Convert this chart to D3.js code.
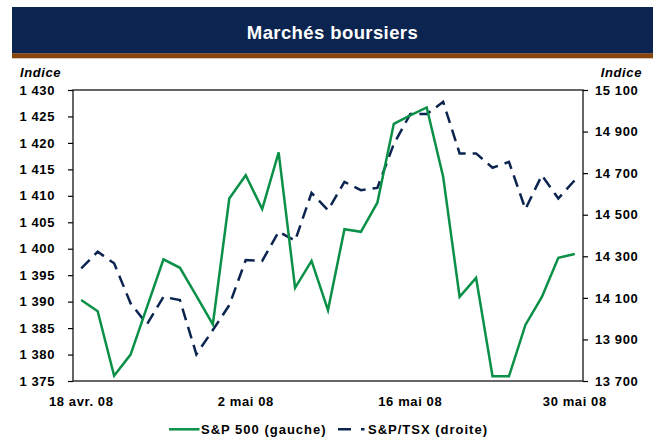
<!DOCTYPE html>
<html>
<head>
<meta charset="utf-8">
<script src="https://cdn.jsdelivr.net/npm/d3@7"></script>
<style>
  html, body { margin: 0; padding: 0; background: #fff; }
  svg { display: block; font-family: "Liberation Sans", Arial, sans-serif; }
</style>
</head>
<body>
<svg id="chart" width="653" height="441"></svg>
<script>
// ---- Data ----
const dates = [
  "2008-04-18","2008-04-21","2008-04-22","2008-04-23","2008-04-24","2008-04-25",
  "2008-04-28","2008-04-29","2008-04-30","2008-05-01","2008-05-02",
  "2008-05-05","2008-05-06","2008-05-07","2008-05-08","2008-05-09",
  "2008-05-12","2008-05-13","2008-05-14","2008-05-15","2008-05-16",
  "2008-05-19","2008-05-20","2008-05-21","2008-05-22","2008-05-23",
  "2008-05-26","2008-05-27","2008-05-28","2008-05-29","2008-05-30"
];
const sp500 = [1390.3, 1388.2, 1376.0, 1380.0, 1389.0, 1398.0, 1396.4, 1391.1, 1385.7, 1409.5,
               1413.9, 1407.5, 1418.2, 1392.6, 1397.7, 1388.4, 1403.7, 1403.2, 1408.7, 1423.6,
               1425.2, 1426.7, 1413.6, 1390.9, 1394.5, 1375.9, 1375.9, 1385.6, 1390.9, 1398.3, 1399.0];
const tsx = [14242, 14322, 14266, 14074, 13973, 14105, 14089, 13828, 13945, 14065,
             14282, 14278, 14418, 14375, 14605, 14522, 14658, 14618, 14629, 14840,
             14984, 14984, 15043, 14795, 14795, 14726, 14754, 14527, 14690, 14578, 14666];
const xTickDates = ["2008-04-18", "2008-05-02", "2008-05-16", "2008-05-30"];
const xTickLabels = ["18 avr. 08", "2 mai 08", "16 mai 08", "30 mai 08"];
const leftTicks = [1375, 1380, 1385, 1390, 1395, 1400, 1405, 1410, 1415, 1420, 1425, 1430];
const rightTicks = [13700, 13900, 14100, 14300, 14500, 14700, 14900, 15100];
const title = "Marchés boursiers";
const axisTitle = "Indice";
const seriesNames = ["S&P 500 (gauche)", "S&P/TSX (droite)"];

// ---- Layout ----
const W = 653, H = 441;
const m = { left: 73, right: 583, top: 90, bottom: 381 };
const GREEN = "#0a9047", NAVY = "#0b2450";
const svg = d3.select("#chart");
svg.append("rect").attr("width", W).attr("height", H).attr("fill", "#fff");

// Title band
svg.append("rect").attr("x", 12).attr("y", 7).attr("width", W - 12).attr("height", 46.5).attr("fill", "#0b2550");
svg.append("rect").attr("x", 12).attr("y", 53.3).attr("width", W - 12).attr("height", 5).attr("fill", "#86460e");
svg.append("text").attr("x", 332.5).attr("y", 39.3).attr("text-anchor", "middle")
  .attr("fill", "#fff").attr("font-weight", "bold").attr("font-size", "18.5px")
  .attr("letter-spacing", "0.4px").text(title);

// Scales
const x = d3.scaleBand().domain(dates).range([m.left, m.right]).padding(0);
const cx = d => x(d) + x.bandwidth() / 2;
const yL = d3.scaleLinear().domain([1375, 1430]).range([m.bottom, m.top]);
const yR = d3.scaleLinear().domain([13700, 15100]).range([m.bottom, m.top]);
const fmt = v => d3.format(",")(v).replace(/,/g, " ");

// Axes
const tickFont = g => g.selectAll("text")
  .attr("font-size", "13px").attr("font-weight", "bold").attr("fill", "#000")
  .attr("letter-spacing", "0.6px").attr("font-family", "'Liberation Sans', Arial, sans-serif");

const gL = svg.append("g").attr("transform", `translate(${m.left},0)`)
  .call(d3.axisLeft(yL).tickValues(leftTicks).tickSize(5).tickPadding(13).tickFormat(fmt));
gL.select(".domain").remove();
gL.selectAll("line").attr("stroke", "#000").attr("stroke-width", 1.2);
tickFont(gL);

const gR = svg.append("g").attr("transform", `translate(${m.right},0)`)
  .call(d3.axisRight(yR).tickValues(rightTicks).tickSize(5).tickPadding(7).tickFormat(fmt));
gR.select(".domain").remove();
gR.selectAll("line").attr("stroke", "#000").attr("stroke-width", 1.2);
tickFont(gR);

const gX = svg.append("g").attr("transform", `translate(0,${m.bottom})`)
  .call(d3.axisBottom(x).tickValues(xTickDates).tickSize(0).tickPadding(15)
    .tickFormat(d => xTickLabels[xTickDates.indexOf(d)]));
gX.select(".domain").remove();
tickFont(gX);
gX.selectAll("text").attr("dy", "0.71em").attr("y", 15.5);

// Plot box
svg.append("rect").attr("x", m.left).attr("y", m.top)
  .attr("width", m.right - m.left).attr("height", m.bottom - m.top)
  .attr("fill", "none").attr("stroke", "#000").attr("stroke-width", 1.2);

// Axis titles
svg.append("text").attr("x", 20).attr("y", 76.5).attr("font-size", "13px").attr("font-weight", "bold")
  .attr("font-style", "italic").attr("letter-spacing", "0.6px").text(axisTitle);
svg.append("text").attr("x", 642).attr("y", 76.5).attr("text-anchor", "end").attr("font-size", "13px")
  .attr("font-weight", "bold").attr("font-style", "italic").attr("letter-spacing", "0.6px").text(axisTitle);

// Lines
const lineL = d3.line().x((d, i) => cx(dates[i])).y(d => yL(d));
const lineR = d3.line().x((d, i) => cx(dates[i])).y(d => yR(d));
svg.append("path").datum(tsx).attr("d", lineR).attr("fill", "none")
  .attr("stroke", NAVY).attr("stroke-width", 2.5).attr("stroke-dasharray", "12,7");
svg.append("path").datum(sp500).attr("d", lineL).attr("fill", "none")
  .attr("stroke", GREEN).attr("stroke-width", 2.5).attr("stroke-linejoin", "miter");

// Legend
const lg = svg.append("g");
lg.append("line").attr("x1", 169).attr("x2", 199.5).attr("y1", 429.3).attr("y2", 429.3)
  .attr("stroke", GREEN).attr("stroke-width", 2.5);
lg.append("text").attr("x", 201).attr("y", 434).attr("font-size", "13px").attr("font-weight", "bold")
  .attr("letter-spacing", "1px").text(seriesNames[0]);
lg.append("line").attr("x1", 338).attr("x2", 364.5).attr("y1", 429.3).attr("y2", 429.3)
  .attr("stroke", NAVY).attr("stroke-width", 2.5).attr("stroke-dasharray", "13,10");
lg.append("text").attr("x", 368).attr("y", 434).attr("font-size", "13px").attr("font-weight", "bold")
  .attr("letter-spacing", "1px").text(seriesNames[1]);
</script>
</body>
</html>
